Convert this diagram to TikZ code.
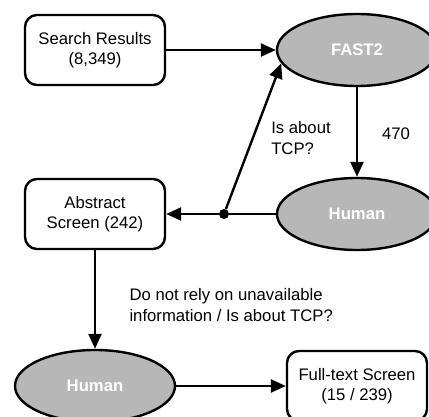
\documentclass[tikz,border=0pt]{standalone}
\usepackage{fontspec}
\setmainfont{Liberation Sans}
\usepackage{tikz}
\usetikzlibrary{arrows.meta, shapes.geometric}
\definecolor{procgray}{HTML}{B7B7B7}
\tikzset{x=1pt, y=-1pt, node distance=262pt,
	box/.style={draw, line width=2.4pt, rounded corners=12pt, fill=white, minimum width=140pt, minimum height=70pt, align=center},
	proc/.style={ellipse, draw, line width=2.4pt, fill=procgray, text=white, font=\fontsize{16.7}{20.5}\selectfont\bfseries, minimum width=160pt, minimum height=72pt},
	flow/.style={-{Triangle[length=15pt, width=13pt]}, line width=2.4pt},
	lbl/.style={align=left}}

\begin{document}
\begin{tikzpicture}[font=\fontsize{16.7}{20.5}\selectfont]
	\useasboundingbox (0,0) rectangle (429,417);
	\node[box] (search) at (95,50) {Search Results\\(8,349)};
	\node[proc] (fast) [right of=search] {FAST2};
	\node[box] (abstract) at (95,214) {Abstract\\Screen (242)};
	\node[proc] (human) [right of=abstract] {Human};
	\node[proc] (human2) at (95,386) {Human};
	\node[box] (full) [right of=human2] {Full-text Screen\\(15 / 239)};
	\node[circle, fill, inner sep=0pt, minimum size=10pt] (split) at (224,214) {};
	% labels
	\node[lbl] (tcp) at (301,138) {Is about\\TCP?};
	\node[lbl] (count) at (396,134) {470};
	\node[lbl, anchor=west] (rely) at (126,305) {Do not rely on unavailable\\information / Is about TCP?};
	\draw[line width=2.4pt] (human) -- (split);
	\path[flow]
		(search) edge (fast)
		(fast) edge (human)
		(split) edge (abstract)
		(split) edge (fast.190)
		(abstract) edge (human2)
		(human2) edge (full)
		;
\end{tikzpicture}
\end{document}
